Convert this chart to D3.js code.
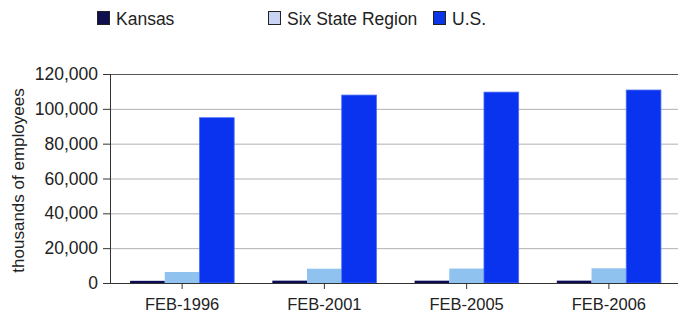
<!DOCTYPE html>
<html><head><meta charset="utf-8">
<script src="https://cdn.jsdelivr.net/npm/d3@7"></script>
<style>body{margin:0;background:#fff;} svg{display:block;font-family:"Liberation Sans",Arial,sans-serif;}</style>
</head><body>
<svg id="c" width="678" height="320"></svg>
<script>
const categories = ["FEB-1996","FEB-2001","FEB-2005","FEB-2006"];
const seriesNames = ["Kansas","Six State Region","U.S."];
const kansas = [1250, 1350, 1330, 1350];
const sixState = [6300, 8200, 8300, 8450];
const us = [94900, 107900, 109600, 110800];
const yTicks = [0,20000,40000,60000,80000,100000,120000];
const colors = ["#0c0c55","#8fc2ef","#0a33f0"];
const legendColors = ["#101050","#c9d3f3","#0d35e8"];

const svg = d3.select("#c");
const m = {l:111, r:-2, t:74, b:37};
const W = 678, H = 320;
const FONT = "Liberation Sans, Arial, sans-serif";
const x = d3.scaleBand().domain(categories).range([m.l, W - m.r]).paddingInner(0).paddingOuter(0);
const xs = d3.scaleBand().domain(seriesNames).range([0, x.bandwidth()]).paddingInner(0).paddingOuter(0.55);
const y = d3.scaleLinear().domain([0,120000]).range([H - m.b, m.t]);

// gridlines
svg.append("g").selectAll("line").data(yTicks.filter(d=>d>0)).join("line")
  .attr("x1", m.l).attr("x2", W).attr("y1", d=>y(d)+0.5).attr("y2", d=>y(d)+0.5)
  .attr("stroke", d=> d===120000 ? "#555" : "#b0b0b0").attr("stroke-width",1);

const data = [kansas, sixState, us];
const g = svg.append("g");
categories.forEach((c,i)=>{
  seriesNames.forEach((s,j)=>{
    const v = data[j][i];
    g.append("rect").attr("x", x(c)+xs(s)).attr("width", xs.bandwidth())
      .attr("y", y(v)).attr("height", y(0)-y(v)).attr("fill", colors[j])
      .attr("stroke", j===2 ? "#4a6cf5" : "none").attr("stroke-width", j===2?0.8:0);
  });
});

// y axis
const ya = svg.append("g").attr("transform",`translate(${m.l},0)`)
  .call(d3.axisLeft(y).tickValues(yTicks).tickSize(8).tickPadding(5).tickFormat(d3.format(",")));
ya.select(".domain").attr("stroke","#333").attr("d", `M-0.5,${y(120000)}V${y(0)}`);
ya.selectAll(".tick line").attr("stroke","#333").attr("x2",-8).attr("x1",0);
ya.selectAll("text").attr("font-size",17.5).attr("fill","#222").attr("font-family",FONT);

// x axis
const xa = svg.append("g").attr("transform",`translate(0,${y(0)})`)
  .call(d3.axisBottom(x).tickSize(6).tickPadding(9));
xa.select(".domain").attr("stroke","#333").attr("d", `M${m.l},0.5H${W}`);
xa.selectAll(".tick line").attr("stroke","#333");
xa.selectAll("text").attr("font-size",16.5).attr("fill","#222").attr("font-family",FONT);

// y title
svg.append("text").attr("transform",`translate(24,${(m.t + H - m.b)/2 + 2}) rotate(-90)`)
  .attr("text-anchor","middle").attr("font-size",17).attr("fill","#222").text("thousands of employees");

// legend
const legX = [97, 268, 433];
seriesNames.forEach((s,j)=>{
  const lg = svg.append("g").attr("transform",`translate(${legX[j]},11)`);
  lg.append("rect").attr("x",0.5).attr("y",0.5).attr("width",12).attr("height",13)
    .attr("fill",legendColors[j]).attr("stroke", "#222").attr("stroke-width",1);
  lg.append("text").attr("x",19).attr("y",13.5).attr("font-size",17.5).attr("fill","#222").text(s);
});
</script>
</body></html>
